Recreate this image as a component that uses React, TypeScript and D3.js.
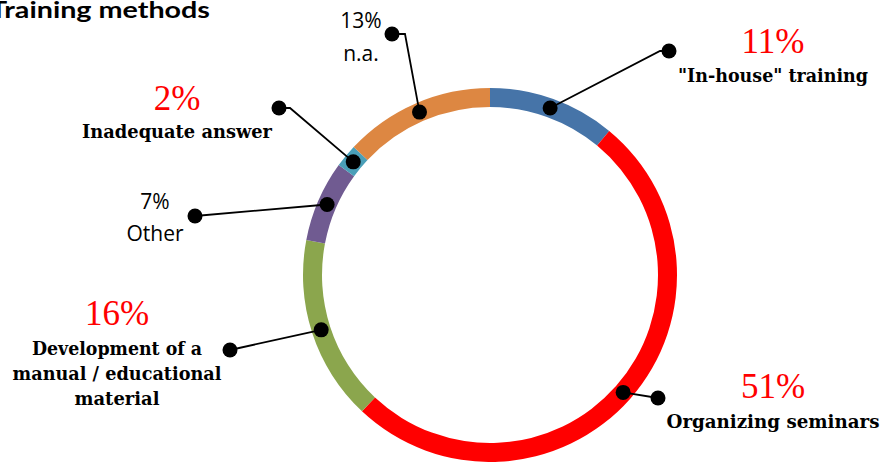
import React from "react";
import * as d3 from "d3";

const categories = [
  "\"In-house\" training",
  "Organizing  seminars",
  "Development of a manual / educational material",
  "Other",
  "Inadequate answer",
  "n.a.",
];
const values = [11, 51, 16, 7, 2, 13];
const colors = ["#4674A8", "#FF0000", "#8BA64D", "#705B91", "#4A9FB8", "#DD8742"];

// label layout (positions only)
const labelLines = [
  ["\"In-house\" training"],
  ["Organizing  seminars"],
  ["Development of a", "manual / educational", "material"],
  ["Other"],
  ["Inadequate answer"],
  ["n.a."],
];
const serifStyle = [true, true, true, false, true, false];
const labelX = [773, 773, 117, 155, 177, 361];
const pctY = [53, 398, 325, 209, 110, 28];
const nameY = [82, 428, 355, 241, 138, 61];
const nameWidths = [[190], [213], [170, 209, 85], [0], [190], [0]];
const leaderEnd = [
  [[660, 51], [669, 51]],
  [[658, 398]],
  [[230, 350]],
  [[195, 216]],
  [[290, 108], [279, 108]],
  [[405, 34], [392, 34]],
];

const W = 889;
const H = 462;
const cx = 490;
const cy = 275;
const rOuter = 187;
const rInner = 168;

export default function App() {
  const pie = d3.pie<number>().sort(null).value((d) => d).startAngle(0).endAngle(2 * Math.PI);
  const arcs = pie(values);
  const arc = d3.arc<d3.PieArcDatum<number>>().innerRadius(rInner).outerRadius(rOuter);
  const rMid = (rInner + rOuter) / 2;
  const serif = "'DejaVu Serif', 'Liberation Serif', serif";
  const pctSerif = "'Liberation Serif', 'DejaVu Serif', serif";
  const sans = "'Open Sans', 'Noto Sans', sans-serif";

  return (
    <svg width={W} height={H} style={{ position: "absolute", left: 0, top: 0, background: "#fff" }}>
      <text x={-10} y={18} fontFamily="Lato, 'Open Sans', sans-serif" fontWeight="bold" fontSize={23} textLength={220} lengthAdjust="spacingAndGlyphs" fill="#000">
        Training methods
      </text>
      <g transform={`translate(${cx},${cy})`}>
        {arcs.map((a, i) => (
          <path key={i} d={arc(a) || ""} fill={colors[i]} />
        ))}
      </g>
      {arcs.map((a, i) => {
        const mid = (a.startAngle + a.endAngle) / 2;
        const px = cx + rMid * Math.sin(mid);
        const py = cy - rMid * Math.cos(mid);
        const pts: [number, number][] = [[px, py], ...(leaderEnd[i] as [number, number][])];
        const line = d3.line()(pts) || "";
        const end = pts[pts.length - 1];
        return (
          <g key={"l" + i}>
            <path d={line} fill="none" stroke="#000" strokeWidth={1.8} />
            <circle cx={px} cy={py} r={7.5} fill="#000" />
            <circle cx={end[0]} cy={end[1]} r={7.5} fill="#000" />
          </g>
        );
      })}
      {values.map((v, i) => {
        const isSerif = serifStyle[i];
        return (
          <g key={"t" + i}>
            <text
              x={labelX[i]}
              y={pctY[i]}
              textAnchor="middle"
              fontFamily={isSerif ? pctSerif : sans}
              fontSize={isSerif ? 35 : 21}
              fill={isSerif ? "#FF0000" : "#000"}
            >
              {`${v}%`}
            </text>
            {labelLines[i].map((ln, j) => (
              <text
                key={j}
                x={labelX[i]}
                y={nameY[i] + j * 25}
                textAnchor="middle"
                fontFamily={isSerif ? serif : sans}
                fontWeight={isSerif ? "bold" : "normal"}
                fontSize={isSerif ? 18 : 21}
                fill="#000"
                {...(isSerif && nameWidths[i][j] ? { textLength: nameWidths[i][j], lengthAdjust: "spacingAndGlyphs" } : {})}
              >
                {ln}
              </text>
            ))}
          </g>
        );
      })}
    </svg>
  );
}
